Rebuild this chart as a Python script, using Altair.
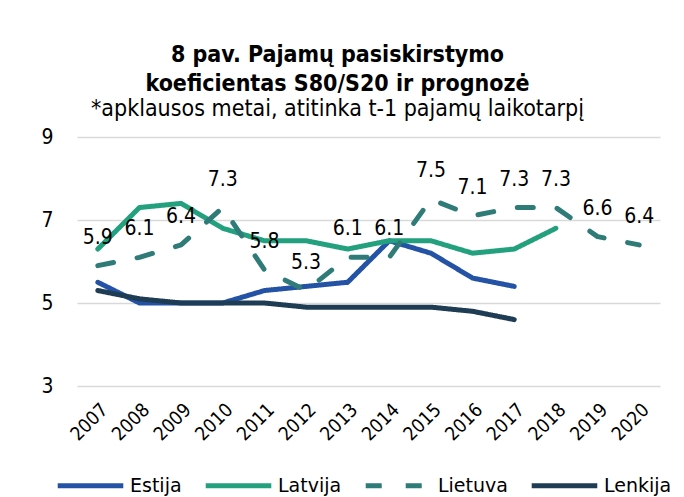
import altair as alt
import pandas as pd

years = ["2007", "2008", "2009", "2010", "2011", "2012", "2013",
         "2014", "2015", "2016", "2017", "2018", "2019", "2020"]
estija = [5.5, 5.0, 5.0, 5.0, 5.3, 5.4, 5.5, 6.5, 6.2, 5.6, 5.4, None, None, None]
latvija = [6.3, 7.3, 7.4, 6.8, 6.5, 6.5, 6.3, 6.5, 6.5, 6.2, 6.3, 6.8, None, None]
lietuva = [5.9, 6.1, 6.4, 7.3, 5.8, 5.3, 6.1, 6.1, 7.5, 7.1, 7.3, 7.3, 6.6, 6.4]
lenkija = [5.3, 5.1, 5.0, 5.0, 5.0, 4.9, 4.9, 4.9, 4.9, 4.8, 4.6, None, None, None]

series_names = ["Estija", "Latvija", "Lietuva", "Lenkija"]
series_values = [estija, latvija, lietuva, lenkija]
series_colors = ["#2453A6", "#23A07E", "#2E7B78", "#1E3D55"]
series_dash = [[1, 0], [1, 0], [16, 24], [1, 0]]

rows = []
for name, vals in zip(series_names, series_values):
    for y, v in zip(years, vals):
        if v is not None:
            rows.append({"year": y, "value": v, "series": name})
df = pd.DataFrame(rows)

FONT = "DejaVu Sans"
FONT_C = "DejaVu Sans Condensed"

x_enc = alt.X("year:O", sort=years, title=None,
              scale=alt.Scale(domain=years, padding=0.5),
              axis=alt.Axis(labelAngle=-45, labelFontSize=19, labelFont=FONT_C,
                            labelColor="#000000", domain=False, ticks=False,
                            grid=False, labelPadding=14))
y_enc = alt.Y("value:Q", title=None,
              scale=alt.Scale(domain=[3, 9], nice=False, zero=False),
              axis=alt.Axis(values=[3, 5, 7, 9], labelFontSize=21, labelFont=FONT_C,
                            labelColor="#000000", domain=False, ticks=False,
                            gridColor="#d9d9d9", gridWidth=1.5, labelPadding=24))

legend = alt.Legend(title=None, orient="none", direction="horizontal",
                    legendX=-22, legendY=313, symbolType="stroke",
                    symbolSize=4300, symbolStrokeWidth=5, labelFontSize=19,
                    labelFont=FONT, labelColor="#000000", columnPadding=13,
                    labelOffset=4)

lines = alt.Chart(df).mark_line(strokeWidth=5, strokeCap="round",
                                strokeJoin="round").encode(
    x=x_enc,
    y=y_enc,
    color=alt.Color("series:N", scale=alt.Scale(domain=series_names,
                                                range=series_colors),
                    legend=legend),
    strokeDash=alt.StrokeDash("series:N",
                              scale=alt.Scale(domain=series_names,
                                              range=series_dash),
                              legend=legend),
    detail="series:N",
)

labels = alt.Chart(df).transform_filter(
    alt.datum.series == "Lietuva"
).mark_text(dy=-28, fontSize=21, font=FONT_C, color="#000000").encode(
    x=alt.X("year:O", sort=years),
    y=alt.Y("value:Q"),
    text=alt.Text("value:Q", format=".1f"),
)

chart = alt.layer(lines, labels).properties(
    width=583,
    height=249,
    title=alt.TitleParams(
        text=["8 pav. Pajamų pasiskirstymo", "koeficientas S80/S20 ir prognozė"],
        subtitle="*apklausos metai, atitinka t-1 pajamų laikotarpį",
        fontSize=23, fontWeight="bold", font=FONT_C, color="#000000",
        lineHeight=29, subtitleFontSize=23, subtitleFont=FONT_C,
        subtitleColor="#000000", subtitlePadding=2, anchor="middle",
        frame="group", dx=-31, offset=5),
    autosize=alt.AutoSizeParams(type="none"),
    padding={"left": 69, "top": 129, "right": 16, "bottom": 115},
    background="#ffffff",
).configure_view(stroke=None)

chart.save("out.html", embed_options={"renderer": "svg", "actions": False})
